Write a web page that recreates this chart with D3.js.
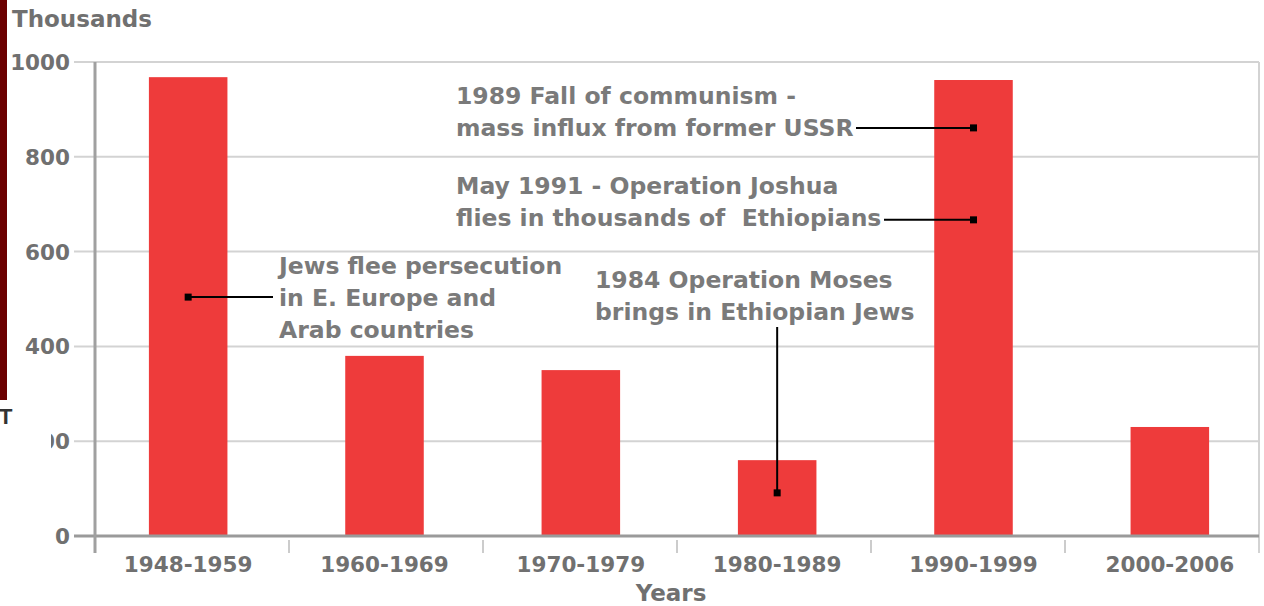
<!DOCTYPE html>
<html>
<head>
<meta charset="utf-8">
<script src="https://cdn.jsdelivr.net/npm/d3@7"></script>
<style>
  body { margin: 0; background: #fff; }
  svg { display: block; font-family: "DejaVu Sans", sans-serif; font-weight: bold; }
</style>
</head>
<body>
<svg id="chart" width="1264" height="606"></svg>
<script>
(function() {
    // data (thousands of immigrants)
    const periods = ["1948-1959", "1960-1969", "1970-1979", "1980-1989", "1990-1999", "2000-2006"];
    const immigrants = [968, 380, 350, 160, 962, 230];
    const yTicks = [0, 200, 400, 600, 800, 1000];

    // annotations: which bar, the value where the marker sits, and the text lines
    const noteBars = ["1948-1959", "1990-1999", "1990-1999", "1980-1989"];
    const noteValues = [504, 861, 667, 91];
    const noteLines = [
        ["Jews flee persecution", "in E. Europe and", "Arab countries"],
        ["1989 Fall of communism -", "mass influx from former USSR"],
        ["May 1991 - Operation Joshua", "flies in thousands of  Ethiopians"],
        ["1984 Operation Moses", "brings in Ethiopian Jews"]
    ];

    const left = 95, right = 1259, top = 62, bottom = 536;
    const svg = d3.select("#chart");

    const x = d3.scaleBand().domain(periods).range([left, right]);
    // bars sit a little off the category centres in the original
    const xBar = d3.scaleBand().domain(periods).range([90, 1268])
        .paddingInner(0.6).paddingOuter(0.3);
    const y = d3.scaleLinear().domain([0, 1000]).range([bottom, top]);

    // artefacts on the left edge of the original screenshot
    svg.append("rect").attr("x", 0).attr("y", 0).attr("width", 7).attr("height", 400).attr("fill", "#6b0000");

    // gridlines
    svg.append("g").selectAll("line")
        .data(yTicks.filter(d => d > 0))
        .join("line")
        .attr("x1", 74).attr("x2", right)
        .attr("y1", d => y(d)).attr("y2", d => y(d))
        .attr("stroke", "#d3d3d3").attr("stroke-width", 2);

    // right border
    svg.append("line").attr("x1", right).attr("x2", right).attr("y1", top).attr("y2", 553)
        .attr("stroke", "#d3d3d3").attr("stroke-width", 2);

    // category separators below the axis
    svg.append("g").selectAll("line")
        .data(periods.slice(1))
        .join("line")
        .attr("x1", d => x(d)).attr("x2", d => x(d))
        .attr("y1", 540).attr("y2", 553)
        .attr("stroke", "#cccccc").attr("stroke-width", 2);

    // bars
    svg.append("g").selectAll("rect")
        .data(periods)
        .join("rect")
        .attr("x", d => xBar(d))
        .attr("width", xBar.bandwidth())
        .attr("y", (d, i) => y(immigrants[i]))
        .attr("height", (d, i) => y(0) - y(immigrants[i]))
        .attr("fill", "#ee3b3b");

    // axes
    svg.append("line").attr("x1", 74).attr("x2", right).attr("y1", bottom).attr("y2", bottom)
        .attr("stroke", "#9a9a9a").attr("stroke-width", 3);
    svg.append("line").attr("x1", left).attr("x2", left).attr("y1", top).attr("y2", 553)
        .attr("stroke", "#a0a0a0").attr("stroke-width", 3);

    // y tick labels
    svg.append("g").selectAll("text")
        .data(yTicks)
        .join("text")
        .attr("x", 70).attr("y", d => y(d) + 8)
        .attr("text-anchor", "end")
        .attr("font-size", 21.5)
        .attr("fill", "#707070")
        .text(d => d);

    // the 200 label is partly hidden in the original
    svg.append("rect").attr("x", 0).attr("y", 428).attr("width", 51).attr("height", 26).attr("fill", "#fff");
    svg.append("text").attr("x", -1).attr("y", 424).attr("font-size", 22)
        .attr("fill", "#333").attr("font-family", "Liberation Sans, sans-serif").text("T");

    // x tick labels
    svg.append("g").selectAll("text")
        .data(periods)
        .join("text")
        .attr("x", d => xBar(d) + xBar.bandwidth() / 2)
        .attr("y", 572)
        .attr("text-anchor", "middle")
        .attr("font-size", 21.5)
        .attr("fill", "#707070")
        .text(d => d);

    // axis titles
    svg.append("text").attr("x", 12).attr("y", 27).attr("font-size", 23)
        .attr("fill", "#707070").text("Thousands");
    svg.append("text").attr("x", 671).attr("y", 601).attr("text-anchor", "middle")
        .attr("font-size", 23).attr("fill", "#707070").text("Years");

    // annotations
    const noteText = [[279, 274], [456, 104], [456, 194], [595, 288]];
    const noteLineEnd = [[273, null], [856, null], [884, null], [null, 327]];
    const ann = svg.append("g");
    noteLines.forEach((lines, i) => {
        const cx = xBar(noteBars[i]) + xBar.bandwidth() / 2;
        const cy = y(noteValues[i]);
        const [tx, ty] = noteText[i];
        const [ex, ey] = noteLineEnd[i];
        ann.append("line")
            .attr("x1", cx).attr("y1", cy)
            .attr("x2", ex === null ? cx : ex).attr("y2", ey === null ? cy : ey)
            .attr("stroke", "#000").attr("stroke-width", 2);
        ann.append("rect").attr("x", cx - 3.5).attr("y", cy - 3.5)
            .attr("width", 7).attr("height", 7).attr("fill", "#000");
        const t = ann.append("text").attr("font-size", 23.5).attr("fill", "#7a7a7a")
            .style("white-space", "pre");
        lines.forEach((l, j) => {
            t.append("tspan").attr("x", tx).attr("y", ty + j * 32).text(l);
        });
    });
})();
</script>
</body>
</html>
